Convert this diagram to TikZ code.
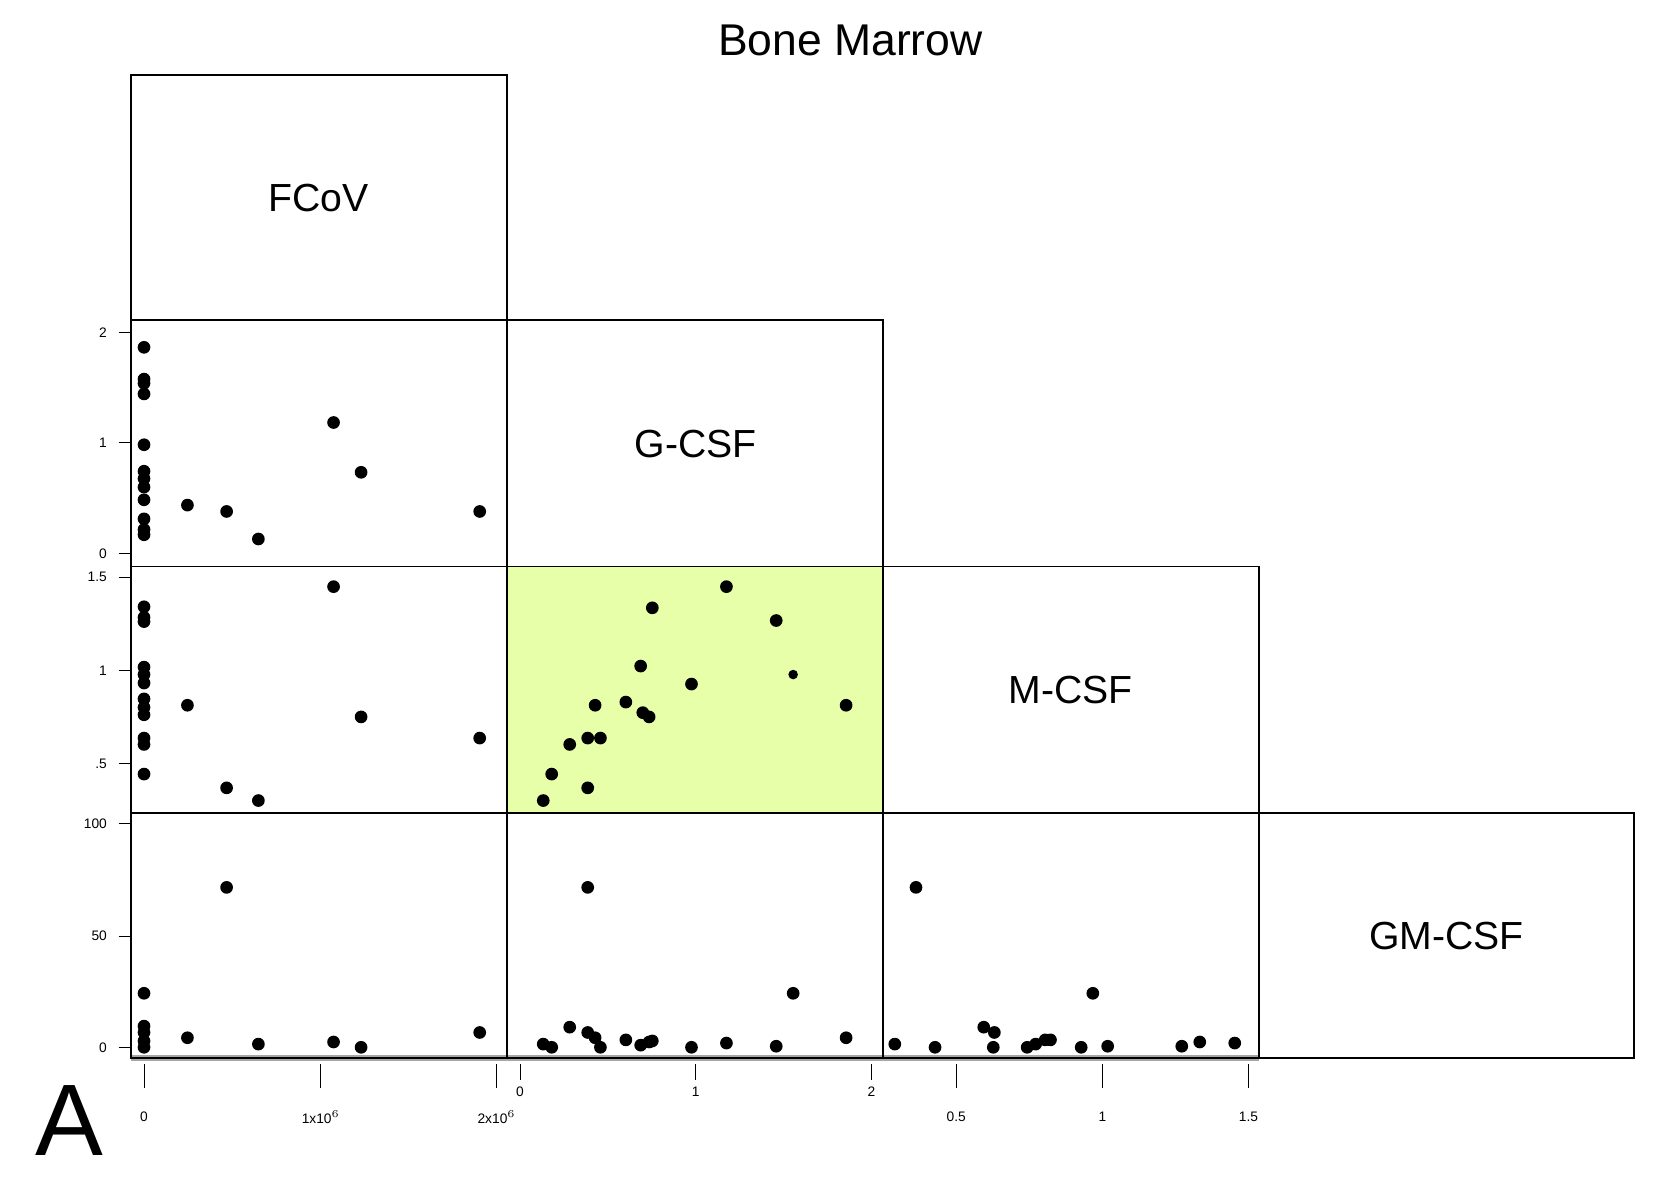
\documentclass[tikz,border=0pt]{standalone}
\usepackage{fontspec}
\setmainfont{Liberation Sans}
\begin{document}
\begin{tikzpicture}[x=0.5pt,y=-0.5pt,
  panel/.style={draw=black,line width=0.8pt},
  dot/.style={fill=black,circle,inner sep=0pt,minimum size=6pt},
  lab/.style={font=\fontsize{18.5}{18.5}\selectfont},
  tick/.style={font=\fontsize{6.5}{6.5}\selectfont}]
\useasboundingbox (0,0) rectangle (1561,1127);
\node[font=\fontsize{21}{21}\selectfont] (title) at (803,38) {Bone Marrow};
\fill[gray!70] (124,996) rectangle (1189,1002);
\fill[fill={rgb,255:red,230;green,255;blue,168}] (479,535) rectangle (834,768);
\foreach \a/\b/\c/\d in {124/71/479/302,479/302/834/535,834/535/1189/768,1189/768/1543/999,
 124/302/479/535,124/535/479/768,479/535/834/768,124/768/479/999,479/768/834/999,834/768/1189/999}
 {\draw[panel] (\a,\b) rectangle (\c,\d);}
\node[lab] (fcov) at (301,187) {FCoV};
\node[lab] (gcsf) at (657,419) {G-CSF};
\node[lab] (mcsf) at (1011,652) {M-CSF};
\node[lab] (gmcsf) at (1366,884) {GM-CSF};
% y ticks
\foreach \y/\t in {314/2,418/1,523/0,545/1.5,633/1,721/.5,778/100,884/50,989/0}
 {\draw (112,\y) -- (124,\y); \node[tick,anchor=east] at (108,\y) {\t};}
% x ticks
\foreach \x/\t in {136/0,303/1x10$^6$,469/2x10$^6$,903/0.5,1041/1,1179/1.5}
 {\draw (\x,1005) -- (\x,1027); \node[tick] at (\x,1055) {\t};}
\foreach \x/\t in {491/0,657/1,823/2}
 {\draw (\x,1005) -- (\x,1020); \node[tick] at (\x,1031) {\t};}
\node[font=\fontsize{48}{48}\selectfont] (A) at (66,1058) {A};
% points
\foreach \p in {(136,328),(136,358),(136,362),(136,372),(136,420),(136,445),(136,452),(136,460),(136,472),(136,490),(136,500),(136,505),(177,477),(214,483),(244,509),(315,399),(341,446),(453,483),
(136,573),(136,583),(136,587),(136,630),(136,637),(136,645),(136,660),(136,668),(136,675),(136,697),(136,703),(136,731),(177,666),(214,744),(244,756),(315,554),(341,677),(453,697),
(513,756),(521,731),(538,703),(555,697),(567,697),(562,666),(555,744),(591,663),(605,629),(607,673),(613,677),(616,574),(653,646),(686,554),(733,586),(799,666),
(136,938),(136,969),(136,975),(136,983),(136,989),(177,980),(214,838),(244,986),(315,984),(341,989),(453,975),
(513,986),(521,989),(538,970),(555,975),(562,980),(567,989),(591,982),(605,987),(613,984),(616,983),(653,989),(686,985),(733,988),(749,938),(799,980),(555,838),
(845,986),(865,838),(883,989),(929,970),(939,975),(938,989),(970,989),(978,986),(987,982),(992,982),(1021,989),(1032,938),(1046,988),(1116,988),(1133,984),(1166,985)}
 {\node[dot] at \p {};}
\node[dot,minimum size=4.5pt] at (749,637) {};
\end{tikzpicture}
\end{document}
